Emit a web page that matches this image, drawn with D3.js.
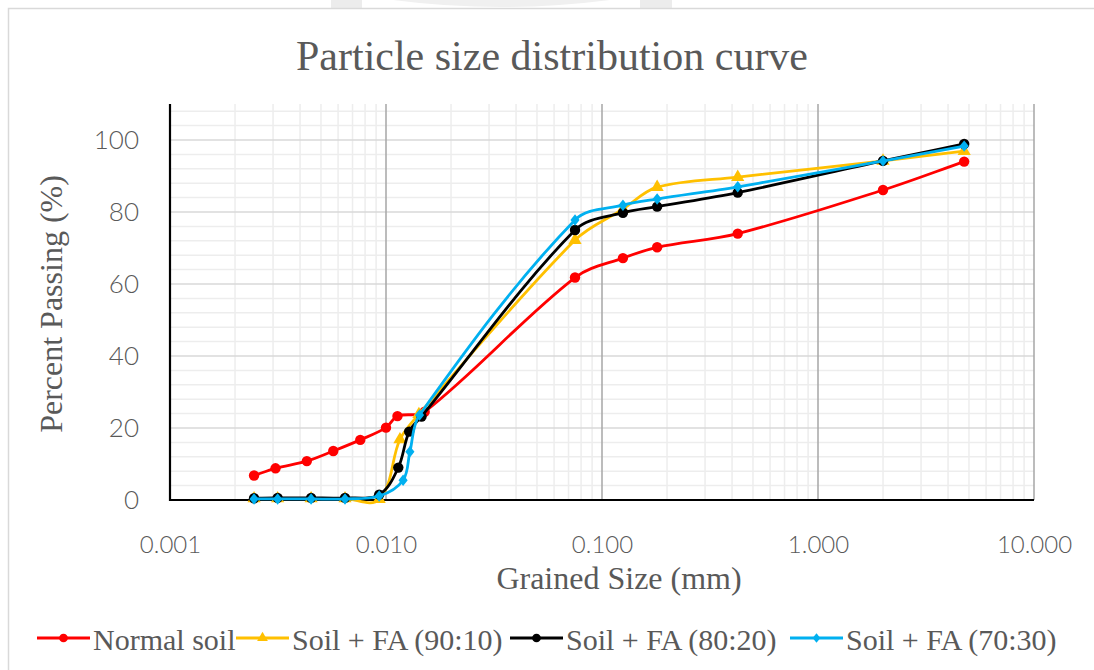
<!DOCTYPE html>
<html>
<head>
<meta charset="utf-8">
<script src="https://cdn.jsdelivr.net/npm/d3@7"></script>
<style>
  html, body { margin: 0; padding: 0; background: #fff; }
  svg { display: block; }
</style>
</head>
<body>
<svg id="chart" width="1094" height="670"></svg>
<script>
// ---------- DATA ----------
const titleText = "Particle size distribution curve";
const xTitle = "Grained Size (mm)";
const yTitle = "Percent Passing (%)";
const xTickValues = [0.001, 0.01, 0.1, 1, 10];
const yTickValues = [0, 20, 40, 60, 80, 100];
const seriesNames = ["Normal soil", "Soil + FA (90:10)", "Soil + FA (80:20)", "Soil + FA (70:30)"];
const seriesColors = ["#ff0000", "#ffc000", "#000000", "#00b0f0"];
const seriesMarkers = ["circle", "triangle", "circle", "diamond"];

const normalSoil = [
  [0.00245, 6.8], [0.00308, 8.8], [0.0043, 10.8], [0.0057, 13.6], [0.0076, 16.7],
  [0.0100, 20.1], [0.0113, 23.3], [0.0151, 24.5], [0.075, 61.8], [0.125, 67.2],
  [0.18, 70.2], [0.425, 74.0], [2.0, 86.1], [4.75, 94.0]
];
const fa9010 = [
  [0.00245, 0.4], [0.00315, 0.4], [0.0045, 0.4], [0.00646, 0.4], [0.0093, 0.2],
  [0.0116, 16.8], [0.0142, 23.8], [0.075, 72.2], [0.125, 80.8], [0.18, 86.9],
  [0.425, 89.7], [2.0, 94.2], [4.75, 96.9]
];
const fa8020 = [
  [0.00245, 0.5], [0.00315, 0.6], [0.0045, 0.6], [0.00646, 0.6], [0.0093, 1.5],
  [0.0114, 9.0], [0.0128, 19.0], [0.0146, 23.2], [0.075, 75.0], [0.125, 79.8],
  [0.18, 81.5], [0.425, 85.4], [2.0, 94.2], [4.75, 98.9]
];
const fa7030 = [
  [0.00245, 0.3], [0.00315, 0.3], [0.0045, 0.3], [0.00646, 0.3], [0.0093, 1.1],
  [0.0120, 5.5], [0.0129, 13.4], [0.0143, 23.6], [0.075, 77.8], [0.125, 81.9],
  [0.18, 83.6], [0.425, 87.0], [2.0, 94.2], [4.75, 98.3]
];
const allSeries = [normalSoil, fa9010, fa8020, fa7030];

// ---------- LAYOUT ----------
const svg = d3.select("#chart");
const W = 1094, H = 670;
const plot = { left: 170, right: 1034, top: 104, bottom: 500 };
const textGray = "#595959";
const serif = "'Liberation Serif', 'Times New Roman', serif";
const sans = "Lato, 'Open Sans', sans-serif";

svg.append("rect").attr("width", W).attr("height", H).attr("fill", "#fff");

// faint background watermark above frame
const wm = svg.append("g").attr("fill", "#ececec").attr("stroke", "none");
wm.append("rect").attr("x", 331).attr("y", 0).attr("width", 31).attr("height", 8);
wm.append("rect").attr("x", 640).attr("y", 0).attr("width", 32).attr("height", 8);
wm.append("path").attr("d", "M393,0 Q501,14 610,0 Z").attr("fill", "#f0f0f0");

// chart frame
svg.append("rect")
  .attr("x", 8.5).attr("y", 8.5).attr("width", 1100).attr("height", 700)
  .attr("fill", "#fff").attr("stroke", "#d9d9d9").attr("stroke-width", 1.5);

const x = d3.scaleLog().domain([0.001, 10]).range([plot.left, plot.right]);
const y = d3.scaleLinear().domain([0, 110]).range([plot.bottom, plot.top]);

// ---------- GRIDLINES ----------
const minorX = [];
for (let e = -3; e < 1; e++) for (let m = 2; m <= 9; m++) minorX.push(m * Math.pow(10, e));
const minorY = d3.range(4, 110, 4).filter(v => v % 20 !== 0);
const majorY = d3.range(20, 110, 20);

const grid = svg.append("g");
grid.selectAll(".mx").data(minorX).join("line")
  .attr("x1", d => x(d)).attr("x2", d => x(d))
  .attr("y1", plot.top).attr("y2", plot.bottom)
  .attr("stroke", "#ededed").attr("stroke-width", 1.5);
grid.selectAll(".my").data(minorY).join("line")
  .attr("x1", plot.left).attr("x2", plot.right)
  .attr("y1", d => y(d)).attr("y2", d => y(d))
  .attr("stroke", "#ededed").attr("stroke-width", 1.5);
grid.selectAll(".My").data(majorY).join("line")
  .attr("x1", plot.left).attr("x2", plot.right)
  .attr("y1", d => y(d)).attr("y2", d => y(d))
  .attr("stroke", "#d9d9d9").attr("stroke-width", 1.5);
grid.selectAll(".Mx").data(xTickValues.slice(1)).join("line")
  .attr("x1", d => x(d)).attr("x2", d => x(d))
  .attr("y1", plot.top).attr("y2", plot.bottom)
  .attr("stroke", "#a6a6a6").attr("stroke-width", 1.5);

// ---------- AXES ----------
const xAxis = d3.axisBottom(x).tickValues(xTickValues).tickFormat(d3.format(".3f")).tickSize(0).tickPadding(36);
const gx = svg.append("g").attr("transform", `translate(0,${plot.bottom})`).call(xAxis);
gx.select(".domain").remove();
gx.selectAll("text").attr("font-family", sans).attr("font-weight", 300).attr("font-size", 24).attr("fill", textGray);

const yAxis = d3.axisLeft(y).tickValues(yTickValues).tickSize(0).tickPadding(31);
const gy = svg.append("g").attr("transform", `translate(${plot.left},0)`).call(yAxis);
gy.select(".domain").remove();
gy.selectAll("text").attr("font-family", sans).attr("font-weight", 300).attr("font-size", 26).attr("fill", textGray);

// axis lines
svg.append("line").attr("x1", plot.left).attr("x2", plot.left).attr("y1", plot.top).attr("y2", plot.bottom + 1)
  .attr("stroke", "#000").attr("stroke-width", 2.2);
svg.append("line").attr("x1", plot.left - 1).attr("x2", plot.right).attr("y1", plot.bottom).attr("y2", plot.bottom)
  .attr("stroke", "#000").attr("stroke-width", 2.2);

// ---------- SERIES ----------
// Excel-like smoothing: neighbour-based tangent direction, handle length scaled by the segment itself
function smoothPath(data) {
  const pts = data.map(d => [x(d[0]), y(d[1])]);
  const n = pts.length;
  const tan = pts.map((p, i) => {
    const a = pts[Math.max(0, i - 1)], b = pts[Math.min(n - 1, i + 1)];
    const dx = b[0] - a[0], dy = b[1] - a[1], l = Math.hypot(dx, dy) || 1;
    return [dx / l, dy / l];
  });
  const p = d3.path();
  p.moveTo(pts[0][0], pts[0][1]);
  for (let i = 0; i < n - 1; i++) {
    const a = pts[i], b = pts[i + 1];
    const L = Math.hypot(b[0] - a[0], b[1] - a[1]) / 3;
    p.bezierCurveTo(a[0] + tan[i][0] * L, a[1] + tan[i][1] * L,
                    b[0] - tan[i + 1][0] * L, b[1] - tan[i + 1][1] * L, b[0], b[1]);
  }
  return p.toString();
}
const symbolFor = (type, size) => {
  if (type === "circle") return d3.symbol(d3.symbolCircle, size)();
  if (type === "triangle") return d3.symbol(d3.symbolTriangle, size)();
  const h = Math.sqrt(size) * 0.62, w = h * 0.8;
  return `M0,${-h}L${w},0L0,${h}L${-w},0Z`;
};
allSeries.forEach((data, i) => {
  const g = svg.append("g");
  g.append("path").attr("d", smoothPath(data))
    .attr("fill", "none").attr("stroke", seriesColors[i]).attr("stroke-width", 2.8);
  g.selectAll("path.m").data(data).join("path").attr("class", "m")
    .attr("d", symbolFor(seriesMarkers[i], seriesMarkers[i] === "triangle" ? 75 : 85))
    .attr("transform", d => `translate(${x(d[0])},${y(d[1])})`)
    .attr("fill", seriesColors[i]);
});

// ---------- TITLES ----------
svg.append("text").attr("x", 552).attr("y", 70).attr("text-anchor", "middle")
  .attr("font-family", serif).attr("font-size", 42).attr("fill", textGray).text(titleText);
svg.append("text").attr("x", 619).attr("y", 589).attr("text-anchor", "middle")
  .attr("font-family", serif).attr("font-size", 32).attr("fill", textGray).text(xTitle);
svg.append("text").attr("transform", "translate(62,304) rotate(-90)").attr("text-anchor", "middle")
  .attr("font-family", serif).attr("font-size", 32).attr("fill", textGray).text(yTitle);

// ---------- LEGEND ----------
const legendX = [37, 236, 510, 790];
const leg = svg.append("g");
seriesNames.forEach((name, i) => {
  const g = leg.append("g").attr("transform", `translate(${legendX[i]},638)`);
  g.append("line").attr("x1", 0).attr("x2", 53).attr("y1", 0).attr("y2", 0)
    .attr("stroke", seriesColors[i]).attr("stroke-width", 2.8);
  g.append("path").attr("d", symbolFor(seriesMarkers[i], seriesMarkers[i] === "triangle" ? 50 : 60))
    .attr("transform", "translate(26.5,0)").attr("fill", seriesColors[i]);
  g.append("text").attr("x", 56).attr("y", 12).attr("font-family", serif)
    .attr("font-size", 30).attr("fill", textGray).text(name);
});
</script>
</body>
</html>
